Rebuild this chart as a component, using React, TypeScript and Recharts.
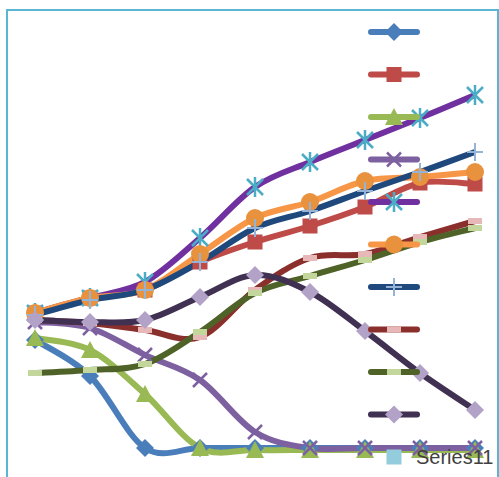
import { LineChart, Line, XAxis, YAxis, Legend } from "recharts";

const categories = ["1", "2", "3", "4", "5", "6", "7", "8", "9"];

const series1 = [27.5, 18.5, 0.5, 0.5, 0.5, 0.5, 0.5, 0.5, 0.5];
const series2 = [34.25, 38, 40, 47, 52, 56, 60.75, 66.75, 66.5];
const series3 = [28, 25, 14, 0.5, 0, 0, 0, 0, 0];
const series4 = [32, 30.5, 23.75, 17.5, 4.5, 0.5, 0.5, 0.5, 0.5];
const series5 = [34.25, 38, 42, 53, 65.75, 72, 77.5, 83, 88.75];
const series6 = [34.25, 38, 40, 49, 58, 62, 67.25, 68.25, 69.5];
const series7 = [33.75, 37.5, 40, 47, 55.5, 59.75, 64.75, 69.5, 74.5];
const series8 = [32.5, 31.75, 30, 28.25, 40, 48, 49, 53.25, 57.25];
const series9 = [19.25, 20, 21.5, 29.5, 39.25, 43.5, 47.5, 52, 55.5];
const series10 = [32.5, 32, 32.5, 38.25, 43.75, 39.5, 29.75, 19.25, 10];
const series11: (number | null)[] = [null, null, null, null, null, null, null, null, null];

const seriesNames = ["", "", "", "", "", "", "", "", "", "", "Series11"];
const seriesValues = [series1, series2, series3, series4, series5, series6, series7, series8, series9, series10, series11];

const seriesStyles = [
  { line: "#4A7EBB", marker: "#4A7EBB", shape: "diamond" },
  { line: "#BE4B48", marker: "#BE4B48", shape: "square" },
  { line: "#98B954", marker: "#98B954", shape: "triangle" },
  { line: "#7D60A0", marker: "#7D60A0", shape: "x" },
  { line: "#7030A0", marker: "#4BACC6", shape: "star" },
  { line: "#F79646", marker: "#E8923E", shape: "circle" },
  { line: "#1F497D", marker: "#95B3D7", shape: "plus" },
  { line: "#8B2F2C", marker: "#E6B9B8", shape: "dash" },
  { line: "#4F6228", marker: "#C3D69B", shape: "dash" },
  { line: "#403152", marker: "#B3A2C7", shape: "diamond" },
  { line: "#31859C", marker: "#93CDDD", shape: "square" },
];

const data = categories.map((c, i) => {
  const row: Record<string, string | number | null> = { cat: c };
  seriesValues.forEach((vals, s) => {
    row["s" + (s + 1)] = vals[i];
  });
  return row;
});

// excel-like smooth line (catmull-rom)
const smoothCurve = (context: any) => {
  let pts: number[][] = [];
  return {
    areaStart() {},
    areaEnd() {},
    lineStart() {
      pts = [];
    },
    point(x: number, y: number) {
      pts.push([+x, +y]);
    },
    lineEnd() {
      const n = pts.length;
      if (!n) return;
      context.moveTo(pts[0][0], pts[0][1]);
      for (let i = 0; i < n - 1; i++) {
        const p0 = pts[i - 1] || pts[i];
        const p1 = pts[i];
        const p2 = pts[i + 1];
        const p3 = pts[i + 2] || p2;
        const t = 1 / 6;
        context.bezierCurveTo(
          p1[0] + (p2[0] - p0[0]) * t,
          p1[1] + (p2[1] - p0[1]) * t,
          p2[0] - (p3[0] - p1[0]) * t,
          p2[1] - (p3[1] - p1[1]) * t,
          p2[0],
          p2[1]
        );
      }
    },
  };
};

const Marker = ({ shape, color, cx, cy }: { shape: string; color: string; cx: number; cy: number }) => {
  switch (shape) {
    case "diamond":
      return <path d={`M${cx},${cy - 9}L${cx + 9},${cy}L${cx},${cy + 9}L${cx - 9},${cy}Z`} fill={color} />;
    case "square":
      return <rect x={cx - 7.5} y={cy - 7.5} width={15} height={15} fill={color} />;
    case "triangle":
      return <path d={`M${cx},${cy - 9}L${cx + 9},${cy + 8}L${cx - 9},${cy + 8}Z`} fill={color} />;
    case "x":
      return (
        <g stroke={color} strokeWidth={2.5}>
          <line x1={cx - 7} y1={cy - 7} x2={cx + 7} y2={cy + 7} />
          <line x1={cx - 7} y1={cy + 7} x2={cx + 7} y2={cy - 7} />
        </g>
      );
    case "star":
      return (
        <g stroke={color} strokeWidth={2.5}>
          <line x1={cx - 8} y1={cy - 8} x2={cx + 8} y2={cy + 8} />
          <line x1={cx - 8} y1={cy + 8} x2={cx + 8} y2={cy - 8} />
          <line x1={cx} y1={cy - 10} x2={cx} y2={cy + 10} />
        </g>
      );
    case "circle":
      return <circle cx={cx} cy={cy} r={9} fill={color} />;
    case "plus":
      return (
        <g stroke={color} strokeWidth={2}>
          <line x1={cx - 8} y1={cy} x2={cx + 8} y2={cy} />
          <line x1={cx} y1={cy - 9} x2={cx} y2={cy + 9} />
        </g>
      );
    case "dash":
      return <rect x={cx - 7} y={cy - 3} width={14} height={6} fill={color} />;
    default:
      return null;
  }
};

const legendTop = 10;

const renderLegend = () => (
  <svg width={139} height={467}>
    {seriesStyles.map((st, i) => {
      const cy = 32 + i * 42.5 - legendTop;
      const last = i === seriesStyles.length - 1;
      return (
        <g key={i}>
          {!last && <line x1={11} y1={cy} x2={57} y2={cy} stroke={st.line} strokeWidth={6} strokeLinecap="round" />}
          <Marker shape={st.shape} color={st.marker} cx={34} cy={cy} />
          {seriesNames[i] && (
            <text x={56} y={cy + 7} fontSize={20} fill="#404040" fontFamily="Liberation Sans, Arial, sans-serif">
              {seriesNames[i]}
            </text>
          )}
        </g>
      );
    })}
  </svg>
);

const App = () => {
  return (
    <div style={{ position: "absolute", left: 0, top: 0, width: 499, height: 477, background: "#fff", overflow: "hidden" }}>
      <div
        style={{
          position: "absolute",
          left: 6,
          top: 9,
          width: 489,
          height: 480,
          border: "2px solid #5AB6D3",
        }}
      />
      <LineChart width={499} height={477} data={data} margin={{ top: 50, right: 24, bottom: 27, left: 35 }}>
        <XAxis dataKey="cat" hide />
        <YAxis hide domain={[0, 100]} />
        <Legend
          layout="horizontal"
          align="center"
          verticalAlign="middle"
          content={renderLegend}
          wrapperStyle={{ position: "absolute", left: 360, top: legendTop, width: 139, height: 467 }}
        />
        {seriesStyles.map((st, i) => (
          <Line
            key={i}
            dataKey={"s" + (i + 1)}
            name={seriesNames[i]}
            type={smoothCurve as any}
            stroke={st.line}
            strokeWidth={6}
            isAnimationActive={false}
            activeDot={false}
            dot={(p: any) =>
              p.cy == null ? <g key={p.index} /> : (
                <g key={p.index}>
                  <Marker shape={st.shape} color={st.marker} cx={p.cx} cy={p.cy} />
                </g>
              )
            }
          />
        ))}
      </LineChart>
    </div>
  );
};

export default App;
